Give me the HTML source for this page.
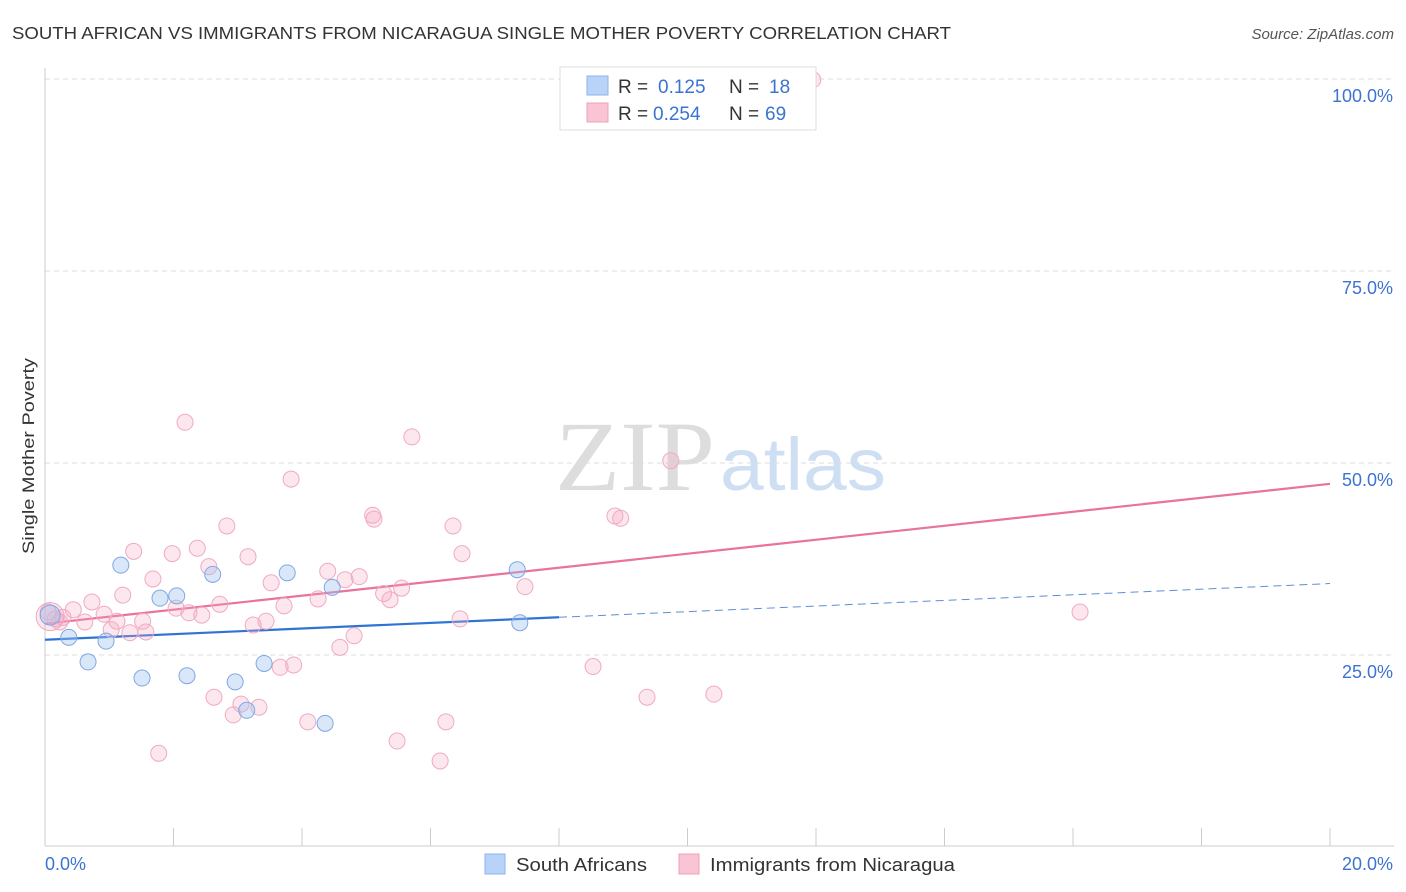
<!DOCTYPE html>
<html><head><meta charset="utf-8"><style>
body{margin:0;background:#fff;font-family:"Liberation Sans",sans-serif;}
svg{display:block}
</style></head><body>
<svg id="chart" width="1406" height="892" xmlns="http://www.w3.org/2000/svg">
<text x="12" y="39" font-size="17.5" fill="#333" textLength="939" lengthAdjust="spacingAndGlyphs">SOUTH AFRICAN VS IMMIGRANTS FROM NICARAGUA SINGLE MOTHER POVERTY CORRELATION CHART</text>
<text x="1394" y="39" font-size="15" fill="#555" text-anchor="end" font-style="italic">Source: ZipAtlas.com</text>
<text transform="translate(34,456) rotate(-90)" font-size="17" fill="#333" text-anchor="middle" textLength="196" lengthAdjust="spacingAndGlyphs">Single Mother Poverty</text>
<g>
<text x="555" y="490" font-size="100" fill="#ddd" font-family="Liberation Serif,serif" textLength="160" lengthAdjust="spacingAndGlyphs">ZIP</text>
<text x="720" y="490" font-size="74" fill="#cfdff3" textLength="166" lengthAdjust="spacingAndGlyphs">atlas</text>
</g>
<g id="grid"></g><g id="axes"></g><g id="trends"></g><g id="points"></g>
<g>
<rect x="560" y="67" width="256" height="63" fill="#fff" stroke="#ddd"/>
<rect x="587" y="76" width="21" height="19" fill="#b8d3f7" stroke="#8ab4ea"/>
<rect x="587" y="103" width="21" height="19" fill="#f9c4d4" stroke="#f0a0ba"/>
<text x="618" y="93" font-size="19" fill="#333">R = </text><text x="658" y="93" font-size="19" fill="#3b74d0">0.125</text>
<text x="729" y="93" font-size="19" fill="#333">N = </text><text x="769" y="93" font-size="19" fill="#3b74d0">18</text>
<text x="618" y="120" font-size="19" fill="#333">R = </text><text x="653" y="120" font-size="19" fill="#3b74d0">0.254</text>
<text x="729" y="120" font-size="19" fill="#333">N = </text><text x="765" y="120" font-size="19" fill="#3b74d0">69</text>
</g>
<g>
<rect x="485" y="854" width="20" height="20" fill="#b8d3f7" stroke="#8ab4ea"/>
<text x="516" y="871" font-size="18" fill="#333" textLength="131" lengthAdjust="spacingAndGlyphs">South Africans</text>
<rect x="679" y="854" width="20" height="20" fill="#f9c4d4" stroke="#f0a0ba"/>
<text x="710" y="871" font-size="18" fill="#333" textLength="245" lengthAdjust="spacingAndGlyphs">Immigrants from Nicaragua</text>
</g>
</svg>
<script>
const xTicks=[0,20];
const yTicks=[25,50,75,100];
const blueX=[0.08,0.37,0.67,0.95,1.18,1.51,1.79,2.05,2.21,2.61,2.96,3.14,3.41,3.77,4.36,4.47,7.35,7.39];
const blueY=[30.2,27.3,24.1,26.8,36.7,22.0,32.4,32.7,22.3,35.5,21.5,17.8,23.9,35.7,16.1,33.8,36.1,29.2];
const pinkX=[11.95,2.18,5.71,9.74,3.83,2.83,5.1,5.12,6.35,8.87,8.96,2.37,1.38,1.98,3.16,6.49,2.55,1.68,4.4,4.89,4.67,3.52,5.55,7.47,5.27,5.37,1.21,4.25,0.73,0.44,0.92,2.72,2.04,3.72,2.24,2.44,0.28,0.16,0.62,1.12,1.52,3.44,3.24,6.46,16.11,1.03,1.32,1.57,4.81,4.59,3.66,3.87,8.53,9.37,10.41,2.63,3.05,3.33,2.93,4.09,6.24,5.48,1.77,6.15,0.08,0.23,0.05];
const pinkY=[99.9,55.3,53.4,50.3,47.9,41.8,43.2,42.7,41.8,43.1,42.8,38.9,38.5,38.2,37.8,38.2,36.5,34.9,35.9,35.2,34.8,34.4,33.7,33.9,33.0,32.2,32.8,32.3,31.9,30.9,30.3,31.6,31.1,31.4,30.5,30.2,29.9,29.7,29.3,29.4,29.4,29.4,28.9,29.7,30.6,28.3,27.9,28.0,27.5,26.0,23.4,23.7,23.5,19.5,19.9,19.5,18.6,18.2,17.2,16.3,16.3,13.8,12.2,11.2,30.0,29.3,30.6];
const NS="http://www.w3.org/2000/svg";
const sx=v=>45+v/20*1285, sy=v=>847-v/25*192;
function mk(p,t,a){const e=document.createElementNS(NS,t);for(const k in a)e.setAttribute(k,a[k]);document.getElementById(p).appendChild(e);return e;}
yTicks.forEach(v=>{
 const g=mk('grid','line',{x1:45,x2:1394,y1:sy(v),y2:sy(v),stroke:'#ddd','stroke-dasharray':'5,4'});
 
 
 const t=mk('grid','text',{x:1393,y:sy(v)+23,'font-size':18,fill:'#3b74d0','text-anchor':'end'});t.textContent=v.toFixed(1)+'%';
 
 
});
mk('axes','line',{x1:45,x2:45,y1:68,y2:846,stroke:'#ccc'});
mk('axes','line',{x1:45,x2:1394,y1:846,y2:846,stroke:'#ccc'});
for(let i=0;i<=10;i++){mk('axes','line',{x1:sx(i*2),x2:sx(i*2),y1:828,y2:846,stroke:'#ccc'});}
xTicks.forEach(v=>{const t=mk('axes','text',{x:v==0?45:1393,y:870,'font-size':18,fill:'#3b74d0','text-anchor':v==0?'start':'end'});t.textContent=v.toFixed(1)+'%';
 
 });
function fit(X,Y){const n=X.length;let mx=0,my=0;X.forEach((x,i)=>{mx+=x;my+=Y[i]});mx/=n;my/=n;let a=0,b=0;X.forEach((x,i)=>{a+=(x-mx)*(Y[i]-my);b+=(x-mx)**2});const s=a/b;return x=>my+s*(x-mx);}
const fb=fit(blueX,blueY), fp0=fit(pinkX,pinkY);
const fp=x=>fp0(x)+0.9-0.09*x;
let l=mk('trends','line',{x1:sx(0),y1:sy(fp(0)),x2:sx(20),y2:sy(fp(20)),stroke:'#e8739b','stroke-width':2.2});


l=mk('trends','line',{x1:sx(0),y1:sy(fb(0)),x2:sx(8),y2:sy(fb(8)),stroke:'#2f73d4','stroke-width':2.2});


l=mk('trends','line',{x1:sx(8),y1:sy(fb(8)),x2:sx(20),y2:sy(fb(20)),stroke:'#5b8fd8','stroke-width':1,'stroke-dasharray':'8,5'});


pinkX.forEach((x,i)=>{const c=mk('points','circle',{cx:sx(x),cy:sy(pinkY[i]),r:(i==64?14:8),fill:'rgba(246,170,195,0.28)',stroke:'#f0aac2','stroke-width':1});
 
 });
blueX.forEach((x,i)=>{const c=mk('points','circle',{cx:sx(x),cy:sy(blueY[i]),r:i==0?10:8,fill:'rgba(160,195,240,0.4)',stroke:'#7ea8e4','stroke-width':1});
 
 });
</script>
</body></html>
